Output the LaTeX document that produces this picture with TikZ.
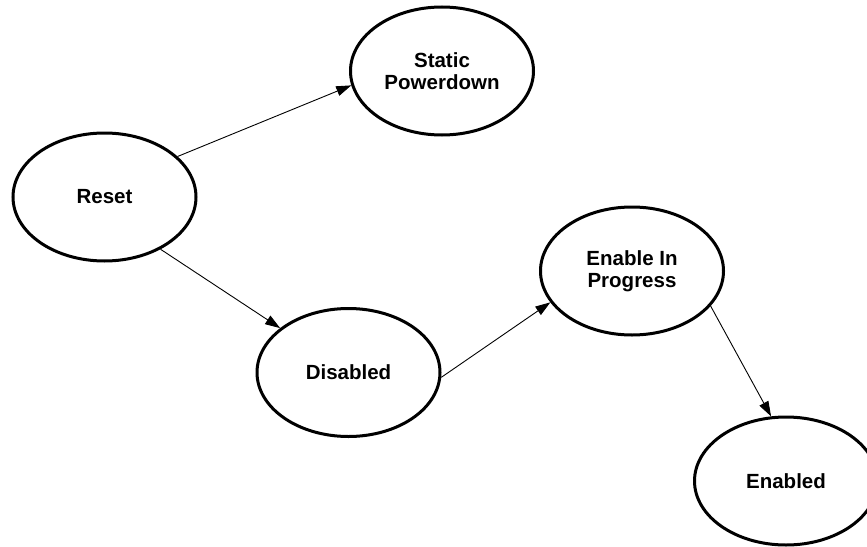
\documentclass[tikz,border=0pt]{standalone}
\usepackage{fontspec}
\setmainfont{Liberation Sans}
\usetikzlibrary{shapes.geometric,arrows.meta}
\begin{document}
\begin{tikzpicture}[x=1pt, y=-1pt, every node/.style={draw, ellipse, line width=3pt, minimum width=183pt, minimum height=128pt, align=center, font=\fontsize{20.5}{22}\selectfont\bfseries}, trans/.style={-{Triangle[length=15pt,width=10pt]}, line width=0.9pt}]
        \useasboundingbox (0,0) rectangle (867,546);
        \node (reset) at (104.5,197) {Reset};
        \node (static) at (442,71) {Static \\ Powerdown};
        \node (disabled) at (348.5,372.5) {Disabled};
        \node (progress) at (632,271) {Enable In \\ Progress};
        \node (enabled) at (786,481) {Enabled};

        \draw[trans] (reset.29) -- (static.189);
        \draw[trans] (reset.-43) -- (disabled.147);
        \draw[trans] (disabled.-3) -- (progress.201);
        \draw[trans] (progress.-24) -- (enabled.103);
    \end{tikzpicture}
\end{document}
